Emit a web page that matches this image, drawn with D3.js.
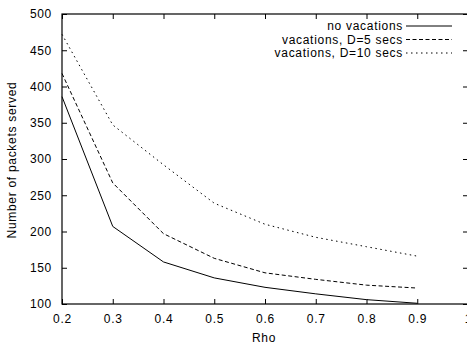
<!DOCTYPE html>
<html>
<head>
<meta charset="utf-8">
<script src="https://cdn.jsdelivr.net/npm/d3@7"></script>
<style>
  body { margin: 0; background: #fff; }
  svg { display: block; }
  text { font-family: "Liberation Sans", Arial, sans-serif; font-size: 12px; letter-spacing: 0.7px; fill: #000; }
  .axis path { display: none; }
  .axis line { stroke: #000; }
</style>
</head>
<body>
<svg id="chart"></svg>
<script>
// values
const rho = [0.2, 0.3, 0.4, 0.5, 0.6, 0.7, 0.8, 0.9];
const noVacations = [386, 207, 158, 136, 123, 114, 106, 101];
const vacD5 = [418, 267, 197, 163, 143, 134, 126, 122];
const vacD10 = [472, 347, 292, 239, 210, 192, 179, 166];

const seriesNames = ['no vacations', 'vacations, D=5 secs', 'vacations, D=10 secs'];
const dashes = ['none', '4,2.5', '1.5,3.5'];

const xTicks = [0.2, 0.3, 0.4, 0.5, 0.6, 0.7, 0.8, 0.9, 1.0];
const yTicks = [100, 150, 200, 250, 300, 350, 400, 450, 500];

class LineChart {

    constructor(_config, _data) {
        this.config = {
            parentElement: _config.parentElement,
            containerWidth: _config.containerWidth || 467,
            containerHeight: _config.containerHeight || 345,
            margin: { top: 14, bottom: 41, right: -1, left: 62 }
        }
        this.data = _data;
        this.initVis();
    }

    initVis() {
        let vis = this;

        vis.width = vis.config.containerWidth - vis.config.margin.left - vis.config.margin.right;
        vis.height = vis.config.containerHeight - vis.config.margin.top - vis.config.margin.bottom;

        vis.svg = d3.select(vis.config.parentElement)
            .attr('width', vis.config.containerWidth)
            .attr('height', vis.config.containerHeight);

        vis.chart = vis.svg.append('g')
            .attr('transform', `translate(${vis.config.margin.left},${vis.config.margin.top})`);

        vis.xScale = d3.scaleLinear()
            .domain([0.2, 1.0])
            .range([0, vis.width]);

        vis.yScale = d3.scaleLinear()
            .domain([100, 500])
            .range([vis.height, 0]);

        // gnuplot style: ticks point inward, mirrored on top and right
        vis.xAxis = d3.axisBottom(vis.xScale)
            .tickValues(xTicks)
            .tickFormat(d => d === 1 ? '1' : d3.format('.1f')(d))
            .tickSize(-5).tickPadding(10);
        vis.yAxis = d3.axisLeft(vis.yScale)
            .tickValues(yTicks)
            .tickSize(-5).tickPadding(10);
        vis.xAxisTop = d3.axisTop(vis.xScale).tickValues(xTicks).tickSize(-5).tickFormat('');
        vis.yAxisRight = d3.axisRight(vis.yScale).tickValues(yTicks).tickSize(-5).tickFormat('');

        vis.xAxisGroup = vis.chart.append('g')
            .attr('class', 'axis x-axis')
            .attr('transform', `translate(0, ${vis.height})`);
        vis.yAxisGroup = vis.chart.append('g')
            .attr('class', 'axis y-axis');
        vis.chart.append('g').attr('class', 'axis').call(vis.xAxisTop);
        vis.chart.append('g').attr('class', 'axis')
            .attr('transform', `translate(${vis.width}, 0)`)
            .call(vis.yAxisRight);

        // border box
        vis.chart.append('rect')
            .attr('width', vis.width)
            .attr('height', vis.height)
            .attr('fill', 'none')
            .attr('stroke', '#000')
            .attr('stroke-width', 1.2);

        vis.svg.append('text')
            .attr('x', 264)
            .attr('y', 342)
            .attr('text-anchor', 'middle')
            .text('Rho');

        vis.svg.append('text')
            .attr('transform', 'translate(16, 160) rotate(-90)')
            .attr('text-anchor', 'middle')
            .text('Number of packets served');

        vis.line = d3.line()
            .x((d, i) => vis.xScale(rho[i]))
            .y(d => vis.yScale(d));

        vis.renderVis();
    }

    renderVis() {
        let vis = this;

        vis.xAxisGroup.call(vis.xAxis);
        vis.yAxisGroup.call(vis.yAxis);
        vis.chart.selectAll('.axis text').attr('fill', '#000');

        vis.chart.selectAll('.series')
            .data(vis.data)
            .enter()
            .append('path')
                .attr('class', 'series')
                .attr('fill', 'none')
                .attr('stroke', '#000')
                .attr('stroke-width', 1)
                .attr('stroke-dasharray', (d, i) => dashes[i])
                .attr('d', d => vis.line(d));

        // legend, top right
        let legend = vis.svg.append('g');
        let rows = legend.selectAll('g')
            .data(seriesNames)
            .enter()
            .append('g')
                .attr('transform', (d, i) => `translate(0, ${26 + i * 13.5})`);
        rows.append('text')
            .attr('x', 403)
            .attr('dy', '0.35em')
            .attr('text-anchor', 'end')
            .text(d => d);
        rows.append('line')
            .attr('x1', 406).attr('x2', 452)
            .attr('stroke', '#000')
            .attr('stroke-dasharray', (d, i) => dashes[i]);
    }
}

new LineChart({ parentElement: '#chart' }, [noVacations, vacD5, vacD10]);
</script>
</body>
</html>
